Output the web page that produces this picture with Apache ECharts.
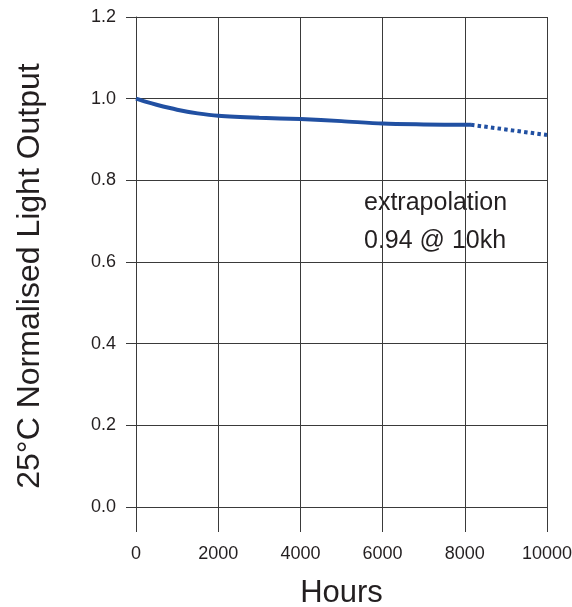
<!DOCTYPE html>
<html>
<head>
<meta charset="utf-8">
<script src="https://cdn.jsdelivr.net/npm/echarts@6/dist/echarts.min.js"></script>
<style>
html,body{margin:0;padding:0;background:#fff;overflow:hidden;}
#chart{width:572px;height:607px;}
</style>
</head>
<body>
<div id="chart"></div>
<script>
// Measured data (hours, normalised light output)
const measuredHours  = [0, 250, 500, 1000, 1500, 2000, 3000, 4000, 5000, 6000, 7000, 8000, 8150];
const measuredOutput = [1.0, 0.992, 0.985, 0.973, 0.964, 0.958, 0.953, 0.950, 0.945, 0.939, 0.937, 0.936, 0.936];
// Extrapolated part
const extrapHours  = [8150, 10000];
const extrapOutput = [0.936, 0.911];

const xTicks = [0, 2000, 4000, 6000, 8000, 10000];
const yTicks = [0.0, 0.2, 0.4, 0.6, 0.8, 1.0, 1.2];

const xTitle = 'Hours';
const yTitle = '25°C Normalised Light Output';
const noteLines = ['extrapolation', '0.94 @ 10kh'];

const FONT = '"Liberation Sans", Arial, sans-serif';
const GRIDC = '#3a3a3a';
const TEXTC = '#231f20';
const LINEC = '#2150a2';

const chart = echarts.init(document.getElementById('chart'), null, {renderer: 'canvas'});
chart.setOption({
  animation: false,
  backgroundColor: '#fff',
  grid: {left: 136, right: 25, top: 17, bottom: 100, containLabel: false, outerBoundsMode: 'none'},
  xAxis: {
    type: 'value',
    min: xTicks[0], max: xTicks[xTicks.length - 1], interval: 2000,
    name: xTitle, nameLocation: 'middle', nameGap: 71,
    nameTextStyle: {fontFamily: FONT, fontSize: 31, color: TEXTC},
    axisLine: {show: false},
    axisTick: {show: true, length: 25, lineStyle: {color: GRIDC, width: 1}},
    axisLabel: {fontFamily: FONT, fontSize: 18, color: TEXTC, margin: 38,
      formatter: v => String(v)},
    splitLine: {show: true, lineStyle: {color: GRIDC, width: 1}}
  },
  yAxis: {
    type: 'value',
    min: yTicks[0], max: yTicks[yTicks.length - 1], interval: 0.2,
    name: yTitle, nameLocation: 'middle', nameGap: 90, nameRotate: 90,
    nameTextStyle: {fontFamily: FONT, fontSize: 32, color: TEXTC, padding: [0, 28, 0, 0]},
    axisLine: {show: true, lineStyle: {color: GRIDC, width: 1}},
    axisTick: {show: true, length: 10, lineStyle: {color: GRIDC, width: 1}},
    axisLabel: {fontFamily: FONT, fontSize: 18, color: TEXTC, margin: 20,
      formatter: v => v.toFixed(1)},
    splitLine: {show: true, lineStyle: {color: GRIDC, width: 1}}
  },
  series: [
    {
      type: 'line', smooth: 0.3, symbol: 'none',
      data: measuredHours.map((h, i) => [h, measuredOutput[i]]),
      lineStyle: {color: LINEC, width: 4}
    },
    {
      type: 'line', symbol: 'none',
      data: extrapHours.map((h, i) => [h, extrapOutput[i]]),
      lineStyle: {color: LINEC, width: 4, type: [3.5, 3.2]}
    }
  ],
  graphic: [
    {type: 'text', left: 364, top: 191,
     style: {text: noteLines[0], font: '25px ' + FONT, fill: TEXTC}},
    {type: 'text', left: 364, top: 229,
     style: {text: noteLines[1], font: '25px ' + FONT, fill: TEXTC}}
  ]
});
</script>
</body>
</html>
